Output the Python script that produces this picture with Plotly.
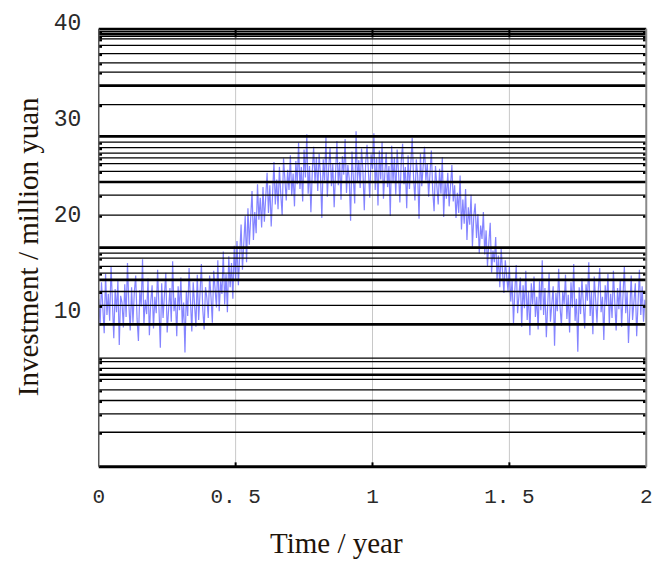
import numpy as np
import plotly.graph_objects as go

# ---- data ----
investment = [
    11.2, 8.4, 12.9, 10.1, 7.6, 13.8, 9.5, 11.7, 8.9, 14.6, 10.3, 7.1, 12.2, 9.8, 13.1, 6.4, 11.5, 10.8, 8.2, 12.7,
    9.3, 14.9, 10.6, 7.9, 12.4, 8.7, 11.9, 13.6, 9.1, 6.8, 12.1, 10.4, 15.3, 8.5, 11.1, 9.6, 13.3, 7.4, 10.9, 12.6,
    8.1, 11.4, 9.7, 14.2, 10.2, 6.1, 12.8, 9.2, 11.6, 13.9, 7.7, 10.7, 12.3, 8.8, 15.1, 9.9, 11.3, 7.3, 12.5, 10.0,
    13.4, 8.6, 10.8, 5.6, 12.0, 9.4, 14.4, 11.0, 7.8, 12.9, 10.5, 8.3, 13.7, 9.0, 11.8, 14.8, 10.1, 8.0, 12.4, 11.3,
    9.2, 13.6, 11.4, 8.7, 14.1, 12.0, 10.3, 15.2, 9.9, 13.0, 11.7, 16.1, 10.6, 13.8, 9.8, 15.6, 12.4, 14.9, 11.2, 16.7,
    13.1, 17.2, 12.6, 15.8, 18.9, 14.2, 16.5, 19.8, 15.0, 20.6, 16.8, 19.1, 22.4, 17.3, 20.2, 18.0, 23.1, 19.4, 21.7, 18.6,
    22.8, 19.2, 21.5, 24.3, 20.1, 23.0, 18.7, 22.2, 25.4, 21.0, 23.6, 20.5, 24.9, 22.0, 19.9, 25.8, 23.3, 21.4, 24.6, 22.5,
    26.1, 21.9, 24.2, 20.8, 25.5, 23.1, 27.4, 22.6, 24.9, 21.3, 26.7, 23.8, 28.3, 22.1, 25.0, 20.2, 24.4, 27.0, 23.2, 25.9,
    22.4, 26.3, 24.0, 19.6, 25.7, 23.5, 28.0, 21.8, 24.8, 26.9, 22.9, 25.2, 20.7, 24.6, 27.6, 23.0, 25.4, 21.5, 26.0, 24.1,
    27.8, 22.2, 25.1, 23.7, 19.3, 26.5, 24.3, 21.1, 28.6, 23.4, 25.6, 22.7, 26.8, 24.5, 20.4, 25.3, 27.2, 23.9, 21.7, 26.2,
    24.7, 28.4, 22.5, 25.8, 20.9, 26.6, 23.6, 27.5, 21.6, 24.2, 26.4, 22.8, 25.0, 19.8, 27.1, 23.3, 25.9, 22.0, 26.7, 24.4,
    21.2, 25.5, 27.3, 23.1, 24.9, 20.6, 26.1, 22.6, 25.2, 27.9, 23.8, 21.4, 25.7, 24.0, 19.5, 26.3, 22.9, 24.6, 27.0, 23.5,
    25.3, 21.8, 24.1, 26.6, 22.4, 20.3, 25.0, 23.2, 21.0, 24.7, 22.1, 25.9, 19.7, 23.4, 21.6, 24.3, 20.8, 22.9, 25.1, 21.3,
    23.0, 19.6, 22.2, 20.1, 24.0, 18.4, 21.5, 19.0, 22.6, 17.3, 20.7, 18.9, 22.0, 16.6, 19.8, 21.1, 17.5, 20.0, 15.9, 18.8,
    17.4, 20.2, 15.8, 18.3, 14.6, 17.0, 19.1, 13.9, 16.2, 15.0, 17.6, 13.1, 15.7, 12.4, 16.4, 14.0, 11.8, 15.2, 13.3, 12.0,
    14.5, 10.9, 13.2, 8.6, 12.1, 14.7, 9.7, 11.5, 13.4, 8.3, 12.6, 10.2, 14.1, 9.0, 11.9, 7.4, 12.8, 10.6, 13.5, 9.3,
    11.4, 8.0, 13.0, 10.0, 15.2, 9.5, 12.3, 7.2, 11.1, 13.9, 8.8, 10.7, 12.5, 6.3, 11.8, 9.9, 14.3, 10.4, 8.4, 12.0,
    10.6, 13.7, 9.1, 11.6, 7.7, 12.9, 10.3, 14.8, 8.9, 11.2, 5.7, 12.4, 9.6, 13.3, 10.9, 8.1, 12.7, 11.0, 15.0, 9.4,
    11.9, 7.5, 13.5, 10.2, 8.7, 12.2, 14.4, 9.8, 11.4, 6.9, 12.6, 10.5, 13.8, 8.5, 11.7, 9.2, 14.1, 10.8, 7.9, 12.3,
    10.1, 13.2, 8.3, 11.5, 14.6, 9.7, 12.0, 6.6, 11.3, 13.6, 9.0, 10.9, 12.8, 7.3, 11.8, 14.2, 9.5, 12.5, 8.8, 11.1,
    10.4,
]
time_start, time_end = 0.0, 2.0
time = np.linspace(time_start, time_end, len(investment))

x_ticks = [0, 0.5, 1, 1.5, 2]
x_tick_labels = ["0", "0. 5", "1", "1. 5", "2"]
y_ticks = [10, 20, 30, 40]
y_tick_labels = ["10", "20", "30", "40"]
x_grid = [0.5, 1, 1.5]

# horizontal black rule levels seen in the reference
thin_levels = [39.00, 38.48, 38.21, 37.54, 36.68, 35.71, 34.76, 31.37,
               27.47, 26.90, 26.33, 25.83, 25.23, 24.43, 21.96, 19.88,
               15.94, 15.42, 14.57, 13.86, 11.95, 10.51,
               5.02, 4.66, 3.95, 2.81, 1.72, 0.62, -0.78, -2.68]
heavy_levels = [38.73, 33.35, 28.07, 23.33, 16.51, 13.16, 8.53, 3.30]
frame_bottom, frame_top = -6.26, 39.25

fig = go.Figure()

shapes = []
# light vertical grid
for gx in x_grid:
    shapes.append(dict(type="line", xref="x", yref="y", x0=gx, x1=gx,
                       y0=frame_bottom, y1=frame_top, layer="below",
                       line=dict(color="#c8c8c8", width=1)))

fig.add_trace(go.Scatter(x=time, y=investment, mode="lines",
                         line=dict(color="rgba(50,50,255,0.6)", width=1.2),
                         hoverinfo="skip"))

for lv in thin_levels:
    shapes.append(dict(type="line", xref="x", yref="y", x0=time_start, x1=time_end,
                       y0=lv, y1=lv, layer="above", line=dict(color="black", width=1.3)))
    for xa, xb in [(time_start, time_start + 0.012), (time_end - 0.012, time_end)]:
        shapes.append(dict(type="line", xref="x", yref="y", x0=xa, x1=xb,
                           y0=lv - 0.15, y1=lv - 0.15, layer="above",
                           line=dict(color="black", width=2.2)))
for lv in heavy_levels:
    shapes.append(dict(type="line", xref="x", yref="y", x0=time_start, x1=time_end,
                       y0=lv, y1=lv, layer="above", line=dict(color="black", width=2.6)))

# frame
shapes.append(dict(type="line", xref="x", yref="y", x0=time_start, x1=time_end,
                   y0=frame_top, y1=frame_top, layer="above", line=dict(color="black", width=2.2)))
shapes.append(dict(type="line", xref="x", yref="y", x0=time_start, x1=time_end,
                   y0=frame_bottom, y1=frame_bottom, layer="above", line=dict(color="black", width=3)))
shapes.append(dict(type="line", xref="x", yref="y", x0=time_start, x1=time_start,
                   y0=frame_bottom, y1=frame_top, layer="above", line=dict(color="#555555", width=1.5)))
shapes.append(dict(type="line", xref="x", yref="y", x0=time_end, x1=time_end,
                   y0=frame_bottom, y1=frame_top, layer="above", line=dict(color="#8a8a8a", width=2)))
# small x ticks on top and bottom of frame
for gx in x_grid:
    shapes.append(dict(type="line", xref="x", yref="y", x0=gx, x1=gx,
                       y0=frame_bottom, y1=frame_bottom + 0.45, layer="above",
                       line=dict(color="black", width=2)))
    shapes.append(dict(type="line", xref="x", yref="y", x0=gx, x1=gx,
                       y0=frame_top, y1=frame_top - 0.9, layer="above",
                       line=dict(color="black", width=2)))

x_tick_font = dict(family="Liberation Mono", size=21, color="#2a2a2a")
y_tick_font = dict(family="Liberation Mono", size=23, color="#2a2a2a")
title_font = dict(family="Liberation Serif", size=29, color="#1e140a")

fig.update_layout(
    width=653, height=561,
    margin=dict(l=95.76, r=3.56, t=12.49, b=92.03),
    plot_bgcolor="white", paper_bgcolor="white",
    showlegend=False,
    shapes=shapes,
    xaxis=dict(range=[-0.01, 2.01], tickvals=x_ticks, ticktext=x_tick_labels,
               showgrid=False, zeroline=False, showline=False, automargin=False,
               ticks="outside", ticklen=8, tickcolor="rgba(0,0,0,0)",
               tickfont=x_tick_font),
    yaxis=dict(range=[-6.5, 41.0], tickvals=y_ticks, ticktext=y_tick_labels,
               showgrid=False, zeroline=False, showline=False, automargin=False,
               ticks="outside", ticklen=9, tickcolor="rgba(0,0,0,0)",
               tickfont=y_tick_font),
    annotations=[
        dict(text="Investment / million yuan", xref="paper", yref="paper",
             x=-0.1224, y=0.486, xanchor="center", yanchor="middle",
             textangle=-90, showarrow=False, font=title_font),
        dict(text="Time / year", xref="paper", yref="paper",
             x=0.4357, y=-0.162, xanchor="center", yanchor="middle",
             showarrow=False, font=title_font),
    ],
)

fig.write_html("out.html", config={"displayModeBar": False},
               post_script="document.body.style.margin='0px';document.body.style.overflow='hidden';")
